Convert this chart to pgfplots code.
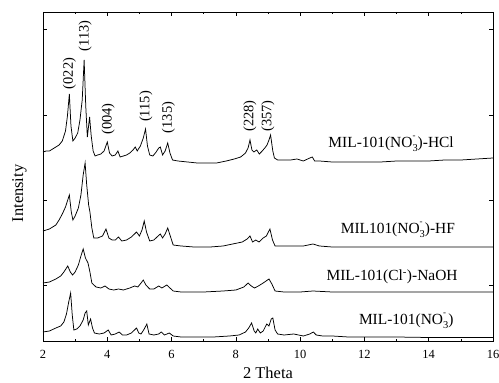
\documentclass[border=0pt]{standalone}
\usepackage{fontspec}
\setmainfont{Liberation Serif}
\usepackage{pgfplots}
\usetikzlibrary{calc}
\pgfplotsset{compat=1.18}
\newcommand{\nothree}{NO\makebox[0pt][l]{\raisebox{1.25ex}{\fontsize{9}{9}\selectfont -}}\raisebox{-0.5ex}{\fontsize{10.5}{10.5}\selectfont 3}}
\begin{document}
\begin{tikzpicture}
\begin{axis}[
  scale only axis, width=450bp, height=329bp,
  xmin=2, xmax=16, ymin=0, ymax=329,
  xtick={2,4,...,16}, minor x tick num=1,
  ytick={56,141,226,312}, yticklabels={},
  tick align=inside,
  major tick length=4bp, minor tick length=2.5bp,
  every tick/.style={black, line width=0.6bp},
  axis line style={line width=0.8bp},
  /pgf/number format/assume math mode=true,
  ticklabel style={font=\fontsize{12.5}{14}\selectfont},
  xticklabel style={yshift=-6bp},
  xlabel={2 Theta}, ylabel={Intensity},
  label style={font=\fontsize{16.5}{18}\selectfont},
  xlabel style={yshift=-1bp},
  ylabel style={yshift=6bp, xshift=-17bp},
  clip=false,
]
% MIL-101(NO3)-HCl
\addplot[black, line width=0.75bp] coordinates {(2.0,189)(2.1,190)(2.2,190)(2.3,192)(2.4,194)(2.5,196)(2.6,200)(2.7,210)(2.76,225)(2.82,247)(2.87,215)(2.93,200)(3.0,203)(3.08,208)(3.15,221)(3.22,241)(3.28,281)(3.33,235)(3.38,204)(3.45,224)(3.5,205)(3.56,190)(3.62,185)(3.7,186)(3.8,187)(3.9,190)(4.0,199)(4.07,188)(4.15,185)(4.25,186)(4.33,190)(4.4,184)(4.5,185)(4.6,186)(4.7,188)(4.8,191)(4.87,194)(4.93,190)(5.03,195)(5.12,203)(5.19,212)(5.25,195)(5.32,186)(5.42,185)(5.52,189)(5.6,193)(5.65,194)(5.72,186)(5.8,190)(5.88,198)(5.95,188)(6.03,181)(6.2,180)(6.5,179)(6.8,178)(7.1,178)(7.4,178)(7.7,180)(7.95,182)(8.15,184)(8.3,188)(8.38,193)(8.44,201)(8.5,191)(8.56,189)(8.65,191)(8.73,187)(8.82,190)(8.9,193)(8.97,196)(9.03,201)(9.08,206)(9.15,190)(9.2,183)(9.3,181)(9.5,181)(9.7,181)(9.9,182)(10.1,180)(10.3,183)(10.38,184)(10.45,180)(10.6,180)(11,179)(11.5,179)(12,179)(12.5,179)(13,180)(13.5,180)(14,180)(14.5,181)(15,181)(15.5,182)(16,183)};
% MIL101(NO3)-HF
\addplot[black, line width=0.75bp] coordinates {(2.0,110)(2.2,112)(2.4,116)(2.5,121)(2.6,127)(2.7,134)(2.77,141)(2.82,146)(2.88,129)(2.93,121)(3.0,125)(3.1,133)(3.18,146)(3.25,166)(3.31,178)(3.36,156)(3.42,136)(3.46,129)(3.52,113)(3.58,103)(3.7,103)(3.85,105)(3.96,112)(4.05,103)(4.15,101)(4.25,101)(4.35,104)(4.45,100)(4.6,101)(4.75,104)(4.91,109)(5.0,105)(5.08,111)(5.15,120)(5.22,109)(5.32,100)(5.45,101)(5.58,105)(5.65,107)(5.72,103)(5.8,107)(5.88,113)(5.96,105)(6.05,96)(6.3,95)(6.7,94)(7.2,94)(7.6,95)(7.9,97)(8.2,99)(8.35,102)(8.44,105)(8.52,99)(8.62,101)(8.72,99)(8.85,103)(8.95,105)(9.06,112)(9.14,101)(9.22,95)(9.5,95)(9.8,95)(10.1,95)(10.4,97)(10.6,95)(11,94)(12,94)(13,94)(14,94)(15,94)(16,94)};
% MIL-101(Cl)-NaOH
\addplot[black, line width=0.75bp] coordinates {(2.0,58)(2.2,59)(2.4,62)(2.55,65)(2.65,69)(2.77,75)(2.85,69)(2.92,66)(3.0,69)(3.1,76)(3.18,85)(3.25,92)(3.32,83)(3.4,78)(3.46,69)(3.52,58)(3.65,54)(3.8,53)(3.93,55)(4.05,52)(4.2,51)(4.35,52)(4.5,51)(4.7,53)(4.85,55)(4.95,54)(5.05,58)(5.12,61)(5.2,56)(5.32,52)(5.45,52)(5.6,55)(5.7,53)(5.85,56)(5.95,53)(6.05,50)(6.3,49)(7,49)(7.6,50)(8.0,51)(8.25,54)(8.38,58)(8.48,55)(8.58,53)(8.7,55)(8.85,58)(9.03,62)(9.12,57)(9.22,50)(9.5,49)(10,49)(10.4,50)(11,49)(12,49)(13,49)(14,49)(15,49)(16,49)};
% MIL-101(NO3)
\addplot[black, line width=0.75bp] coordinates {(2.0,9)(2.2,10)(2.4,13)(2.55,15)(2.65,19)(2.73,27)(2.8,39)(2.86,48)(2.91,26)(2.96,11)(3.05,12)(3.15,15)(3.25,21)(3.31,28)(3.36,30)(3.41,16)(3.48,22)(3.54,13)(3.6,8)(3.75,7)(3.9,8)(4.03,11)(4.12,6)(4.25,7)(4.37,9)(4.47,6)(4.6,6)(4.75,8)(4.91,13)(4.98,8)(5.05,7)(5.15,12)(5.23,17)(5.3,7)(5.45,6)(5.6,7)(5.68,9)(5.78,6)(5.93,8)(6.05,5)(6.3,4)(6.8,4)(7.3,4)(7.8,5)(8.1,6)(8.3,9)(8.4,13)(8.49,18)(8.57,10)(8.62,8)(8.68,12)(8.76,8)(8.85,10)(8.96,17)(9.03,15)(9.1,22)(9.15,23)(9.22,11)(9.3,7)(9.5,6)(9.8,7)(10.1,5)(10.3,7)(10.41,9)(10.5,6)(10.7,5)(11,5)(11.5,4)(12,4)(13,4)(14,3.5)(15,3.5)(16,3.5)};
% peak labels
\begin{scope}[every node/.style={rotate=90, font=\fontsize{14.5}{16}\selectfont, inner sep=0pt}]
\node at (axis cs:2.82,267.5) {(022)};
\node at (axis cs:3.31,305) {(113)};
\node at (axis cs:4.03,222) {(004)};
\node at (axis cs:5.2,234.5) {(115)};
\node at (axis cs:5.9,223.5) {(135)};
\node at (axis cs:8.44,225) {(228)};
\node at (axis cs:9.0,225) {(357)};
\end{scope}
\begin{scope}[every node/.style={font=\fontsize{15.5}{17}\selectfont, inner sep=0pt}]
\node at (axis cs:12.83,197) {MIL-101(\nothree)-HCl};
\node at (axis cs:13.04,111) {MIL101(\nothree)-HF};
\node at (axis cs:12.86,64.3) {MIL-101(Cl\textsuperscript{-})-NaOH};
\node at (axis cs:13.3,20) {MIL-101(\nothree)};
\end{scope}
\end{axis}
\pgfresetboundingbox
\path (current axis.south west) ++(-43bp,-42bp) rectangle ($(current axis.north east)+(6bp,12bp)$);
\end{tikzpicture}
\end{document}
